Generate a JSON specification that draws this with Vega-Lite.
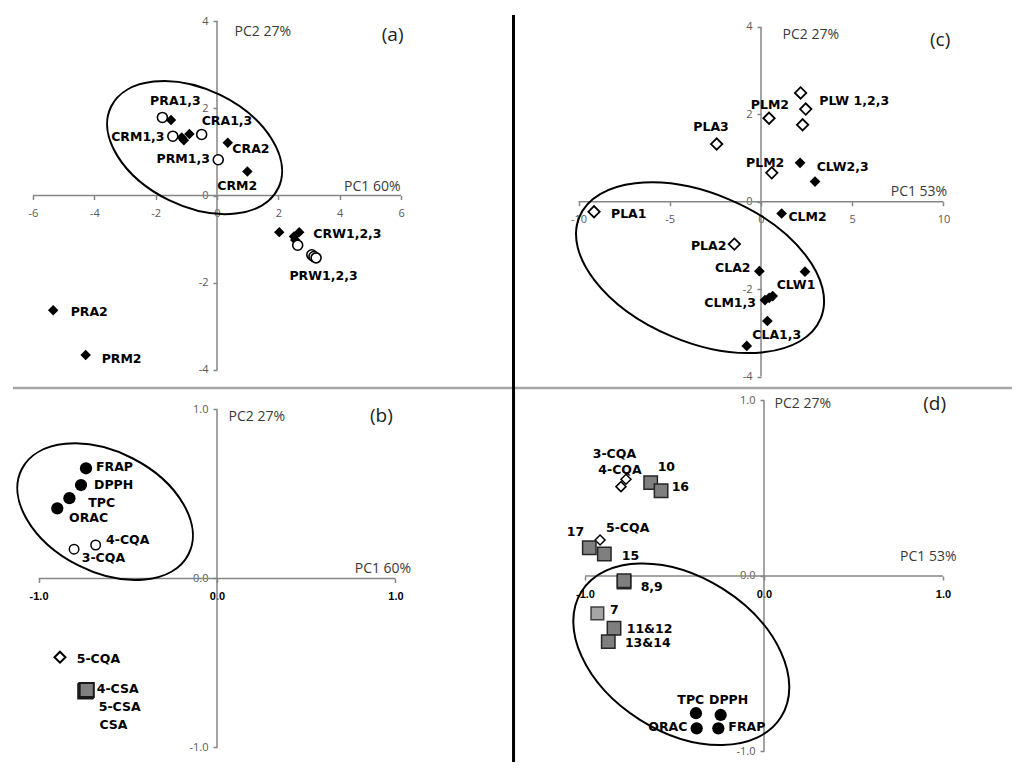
{
  "$schema": "https://vega.github.io/schema/vega-lite/v6.json",
  "padding": 0,
  "spacing": 0,
  "bounds": "flush",
  "columns": 2,
  "background": "white",
  "config": {
    "view": {"stroke": null},
    "axis": {"domain": false, "grid": false, "tickColor": "#868686", "tickWidth": 1.5, "tickSize": 4,
      "labelFont": "Open Sans", "labelFontSize": 11, "labelColor": "#595959", "labelOverlap": false,
      "labelFlush": false, "labelBound": false, "titleFont": "Open Sans", "titleFontSize": 14,
      "titleFontWeight": "normal", "titleColor": "#3a3a3a"},
    "axisX": {"labelPadding": 8, "titleAlign": "right", "titleBaseline": "alphabetic", "titleAngle": 0},
    "axisY": {"labelPadding": 5, "titleAlign": "left", "titleBaseline": "middle", "titleAngle": 0},
    "text": {"font": "DejaVu Sans", "fontWeight": "bold", "fontSize": 12.5, "color": "black", "align": "left", "baseline": "middle"}
  },
  "datasets": {
    "a_axes": [{"x": -6, "x2": 6, "y": 0, "y2": 0}, {"x": 0, "x2": 0, "y": -4, "y2": 4}],
    "c_axes": [{"x": -10, "x2": 10, "y": 0, "y2": 0}, {"x": 0, "x2": 0, "y": -4, "y2": 4}],
    "b_axes": [{"x": -1, "x2": 1, "y": 0, "y2": 0}, {"x": 0, "x2": 0, "y": -1, "y2": 1}],
    "d_axes": [{"x": -1, "x2": 1, "y": 0, "y2": 0}, {"x": 0, "x2": 0, "y": -1, "y2": 1}],
    "a_div": [{"x": -6.65, "x2": 9.615, "y": -4.415, "y2": -4.415}],
    "c_div": [{"x": -13.644, "x2": 13.753, "y": -4.263, "y2": -4.263}],
    "c_vdiv": [{"x": -13.562, "x2": -13.562, "y": 4.272, "y2": -4.263}],
    "d_vdiv": [{"x": -1.3994, "x2": -1.3994, "y": 1.071, "y2": -1.06}],
    "a_ell": [{"x": -0.73, "y": 1.10}],
    "c_ell": [{"x": -3.34, "y": -1.51}],
    "b_ell": [{"x": -0.627, "y": 0.395}],
    "d_ell": [{"x": -0.462, "y": -0.446}],
    "a_pts": [
      {"x": -1.78, "y": 1.79, "k": "o"}, {"x": -1.50, "y": 1.73, "k": "f"},
      {"x": -1.44, "y": 1.36, "k": "o"}, {"x": -1.15, "y": 1.33, "k": "f"},
      {"x": -1.08, "y": 1.27, "k": "f"}, {"x": -0.90, "y": 1.41, "k": "f"},
      {"x": -0.50, "y": 1.40, "k": "o"}, {"x": 0.35, "y": 1.21, "k": "f"},
      {"x": 0.04, "y": 0.82, "k": "o"}, {"x": 0.99, "y": 0.55, "k": "f"},
      {"x": 2.03, "y": -0.84, "k": "f"}, {"x": 2.51, "y": -0.94, "k": "f"},
      {"x": 2.68, "y": -0.84, "k": "f"}, {"x": 2.55, "y": -1.02, "k": "f"},
      {"x": 2.63, "y": -1.14, "k": "o"}, {"x": 3.09, "y": -1.36, "k": "o"},
      {"x": 3.16, "y": -1.40, "k": "o"}, {"x": 3.23, "y": -1.43, "k": "o"},
      {"x": -5.34, "y": -2.63, "k": "f"}, {"x": -4.28, "y": -3.66, "k": "f"}
    ],
    "a_lab": [
      {"t": "PRA1,3", "x": -2.18, "y": 2.17}, {"t": "CRA1,3", "x": -0.50, "y": 1.72},
      {"t": "CRM1,3", "x": -3.45, "y": 1.35}, {"t": "CRA2", "x": 0.50, "y": 1.07},
      {"t": "PRM1,3", "x": -1.97, "y": 0.84}, {"t": "CRM2", "x": 0.01, "y": 0.22},
      {"t": "CRW1,2,3", "x": 3.14, "y": -0.89}, {"t": "PRW1,2,3", "x": 2.36, "y": -1.85},
      {"t": "PRA2", "x": -4.77, "y": -2.68}, {"t": "PRM2", "x": -3.76, "y": -3.75}
    ],
    "a_tag": [{"t": "(a)", "x": 5.37, "y": 3.68}],
    "c_pts": [
      {"x": -2.43, "y": 1.32, "k": "o"}, {"x": 0.44, "y": 1.91, "k": "o"},
      {"x": 2.17, "y": 2.49, "k": "o"}, {"x": 2.45, "y": 2.12, "k": "o"},
      {"x": 2.28, "y": 1.76, "k": "o"}, {"x": 0.59, "y": 0.66, "k": "o"},
      {"x": -9.15, "y": -0.23, "k": "o"}, {"x": -1.46, "y": -0.97, "k": "o"},
      {"x": 2.14, "y": 0.89, "k": "f"}, {"x": 2.96, "y": 0.46, "k": "f"},
      {"x": 1.13, "y": -0.27, "k": "f"}, {"x": -0.09, "y": -1.59, "k": "f"},
      {"x": 2.41, "y": -1.60, "k": "f"}, {"x": 0.22, "y": -2.25, "k": "f"},
      {"x": 0.64, "y": -2.16, "k": "f"}, {"x": 0.45, "y": -2.20, "k": "f"},
      {"x": 0.35, "y": -2.73, "k": "f"}, {"x": -0.78, "y": -3.30, "k": "f"}
    ],
    "c_lab": [
      {"t": "PLA3", "x": -3.71, "y": 1.70}, {"t": "PLM2", "x": -0.56, "y": 2.21},
      {"t": "PLW 1,2,3", "x": 3.19, "y": 2.31}, {"t": "PLM2", "x": -0.82, "y": 0.89},
      {"t": "CLW2,3", "x": 3.05, "y": 0.80}, {"t": "PLA1", "x": -8.22, "y": -0.29},
      {"t": "CLM2", "x": 1.50, "y": -0.34}, {"t": "PLA2", "x": -3.84, "y": -1.01},
      {"t": "CLA2", "x": -2.52, "y": -1.52}, {"t": "CLW1", "x": 0.86, "y": -1.91},
      {"t": "CLM1,3", "x": -3.11, "y": -2.31}, {"t": "CLA1,3", "x": -0.48, "y": -3.05}
    ],
    "c_tag": [{"t": "(c)", "x": 9.26, "y": 3.70}],
    "b_pts": [
      {"x": -0.734, "y": 0.652, "k": "fc"}, {"x": -0.762, "y": 0.553, "k": "fc"},
      {"x": -0.827, "y": 0.475, "k": "fc"}, {"x": -0.895, "y": 0.415, "k": "fc"},
      {"x": -0.680, "y": 0.198, "k": "oc"}, {"x": -0.801, "y": 0.173, "k": "oc"},
      {"x": -0.880, "y": -0.466, "k": "od"},
      {"x": -0.738, "y": -0.668, "k": "sq"}, {"x": -0.734, "y": -0.664, "k": "sq"}, {"x": -0.730, "y": -0.660, "k": "sq"}
    ],
    "b_lab": [
      {"t": "FRAP", "x": -0.678, "y": 0.662}, {"t": "DPPH", "x": -0.689, "y": 0.553},
      {"t": "TPC", "x": -0.721, "y": 0.449}, {"t": "ORAC", "x": -0.829, "y": 0.360},
      {"t": "4-CQA", "x": -0.622, "y": 0.228}, {"t": "3-CQA", "x": -0.758, "y": 0.123},
      {"t": "5-CQA", "x": -0.786, "y": -0.478}, {"t": "4-CSA", "x": -0.674, "y": -0.656},
      {"t": "5-CSA", "x": -0.663, "y": -0.759}, {"t": "CSA", "x": -0.659, "y": -0.867}
    ],
    "b_tag": [{"t": "(b)", "x": 0.857, "y": 0.962}],
    "d_pts": [
      {"x": -0.771, "y": 0.551, "k": "od"}, {"x": -0.799, "y": 0.509, "k": "od"},
      {"x": -0.916, "y": 0.205, "k": "od"},
      {"x": -0.633, "y": 0.532, "k": "sq"}, {"x": -0.575, "y": 0.486, "k": "sq"},
      {"x": -0.976, "y": 0.161, "k": "sq"}, {"x": -0.892, "y": 0.125, "k": "sq"},
      {"x": -0.782, "y": -0.035, "k": "sq"}, {"x": -0.782, "y": -0.027, "k": "sq"},
      {"x": -0.838, "y": -0.298, "k": "sq"}, {"x": -0.870, "y": -0.374, "k": "sq"},
      {"x": -0.931, "y": -0.213, "k": "sl"},
      {"x": -0.380, "y": -0.782, "k": "fc"}, {"x": -0.376, "y": -0.868, "k": "fc"},
      {"x": -0.242, "y": -0.792, "k": "fc"}, {"x": -0.255, "y": -0.868, "k": "fc"}
    ],
    "d_lab": [
      {"t": "3-CQA", "x": -0.957, "y": 0.695}, {"t": "4-CQA", "x": -0.926, "y": 0.604},
      {"t": "10", "x": -0.594, "y": 0.619}, {"t": "16", "x": -0.516, "y": 0.505},
      {"t": "17", "x": -1.102, "y": 0.249}, {"t": "5-CQA", "x": -0.883, "y": 0.272},
      {"t": "15", "x": -0.795, "y": 0.114}, {"t": "8,9", "x": -0.689, "y": -0.061},
      {"t": "7", "x": -0.860, "y": -0.194}, {"t": "11&12", "x": -0.767, "y": -0.302},
      {"t": "13&14", "x": -0.777, "y": -0.384}, {"t": "TPC", "x": -0.484, "y": -0.707},
      {"t": "DPPH", "x": -0.307, "y": -0.707}, {"t": "ORAC", "x": -0.646, "y": -0.859},
      {"t": "FRAP", "x": -0.199, "y": -0.859}
    ],
    "d_tag": [{"t": "(d)", "x": 0.890, "y": 0.980}]
  },
  "concat": [
    {
      "width": 512, "height": 388,
      "encoding": {
        "x": {"field": "x", "type": "quantitative", "scale": {"domain": [-7.073, 9.615], "nice": false, "zero": false},
          "axis": {"title": "PC1 60%", "values": [-6, -4, -2, 0, 2, 4, 6], "format": "d", "labelExpr": "replace(datum.label, '\u2212', '-')", "offset": -192.5, "titleX": 400, "titleY": -5}},
        "y": {"field": "y", "type": "quantitative", "scale": {"domain": [-4.415, 4.484], "nice": false, "zero": false},
          "axis": {"title": "PC2 27%", "values": [-4, -2, 0, 2, 4], "format": "d", "labelExpr": "replace(datum.label, '\u2212', '-')", "offset": -217, "titleX": 17, "titleY": 31}}
      },
      "layer": [
        {"data": {"name": "a_axes"}, "mark": {"type": "rule", "color": "#868686", "strokeWidth": 1.5}, "encoding": {"x2": {"field": "x2"}, "y2": {"field": "y2"}}},
        {"data": {"name": "a_div"}, "mark": {"type": "rule", "color": "#a6a6a6", "strokeWidth": 2.5}, "encoding": {"x2": {"field": "x2"}, "y2": {"field": "y2"}}},
        {"data": {"name": "a_ell"}, "mark": {"type": "point", "shape": "M 93 0 C 93 32.3 51.4 58.5 0 58.5 C -51.4 58.5 -93 32.3 -93 0 C -93 -32.3 -51.4 -58.5 0 -58.5 C 51.4 -58.5 93 -32.3 93 0 Z", "size": 4, "angle": 26, "filled": false, "color": "black", "strokeWidth": 2, "opacity": 1}},
        {"data": {"name": "a_pts"}, "transform": [{"filter": "datum.k === 'f'"}], "mark": {"type": "point", "shape": "diamond", "filled": true, "color": "black", "size": 110, "opacity": 1}},
        {"data": {"name": "a_pts"}, "transform": [{"filter": "datum.k === 'o'"}], "mark": {"type": "point", "shape": "circle", "filled": true, "fill": "white", "stroke": "black", "strokeWidth": 1.6, "size": 100, "opacity": 1}},
        {"data": {"name": "a_lab"}, "mark": {"type": "text"}, "encoding": {"text": {"field": "t"}}},
        {"data": {"name": "a_tag"}, "mark": {"type": "text", "font": "Open Sans", "fontWeight": "normal", "fontSize": 19, "color": "#222222"}, "encoding": {"text": {"field": "t"}}}
      ]
    },
    {
      "width": 512, "height": 388,
      "encoding": {
        "x": {"field": "x", "type": "quantitative", "scale": {"domain": [-13.644, 14.411], "nice": false, "zero": false},
          "axis": {"title": "PC1 53%", "values": [-10, -5, 0, 5, 10], "format": "d", "labelExpr": "replace(datum.label, '\u2212', '-')", "offset": -186.3, "titleX": 434.7, "titleY": -6}},
        "y": {"field": "y", "type": "quantitative", "scale": {"domain": [-4.263, 4.616], "nice": false, "zero": false},
          "axis": {"title": "PC2 27%", "values": [-4, -2, 0, 2, 4], "format": "d", "labelExpr": "replace(datum.label, '\u2212', '-')", "offset": -249, "titleX": 21, "titleY": 34}}
      },
      "layer": [
        {"data": {"name": "c_axes"}, "mark": {"type": "rule", "color": "#868686", "strokeWidth": 1.5}, "encoding": {"x2": {"field": "x2"}, "y2": {"field": "y2"}}},
        {"data": {"name": "c_div"}, "mark": {"type": "rule", "color": "#a6a6a6", "strokeWidth": 2.5}, "encoding": {"x2": {"field": "x2"}, "y2": {"field": "y2"}}},
        {"data": {"name": "c_vdiv"}, "mark": {"type": "rule", "color": "black", "strokeWidth": 3}, "encoding": {"x2": {"field": "x2"}, "y2": {"field": "y2"}}},
        {"data": {"name": "c_ell"}, "mark": {"type": "point", "shape": "M 130.9 0 C 130.9 41 72.3 74.2 0 74.2 C -72.3 74.2 -130.9 41 -130.9 0 C -130.9 -41 -72.3 -74.2 0 -74.2 C 72.3 -74.2 130.9 -41 130.9 0 Z", "size": 4, "angle": 22.9, "filled": false, "color": "black", "strokeWidth": 2, "opacity": 1}},
        {"data": {"name": "c_pts"}, "transform": [{"filter": "datum.k === 'f'"}], "mark": {"type": "point", "shape": "diamond", "filled": true, "color": "black", "size": 115, "opacity": 1}},
        {"data": {"name": "c_pts"}, "transform": [{"filter": "datum.k === 'o'"}], "mark": {"type": "point", "shape": "diamond", "filled": true, "fill": "white", "stroke": "black", "strokeWidth": 1.8, "size": 130, "opacity": 1}},
        {"data": {"name": "c_lab"}, "mark": {"type": "text"}, "encoding": {"text": {"field": "t"}}},
        {"data": {"name": "c_tag"}, "mark": {"type": "text", "font": "Open Sans", "fontWeight": "normal", "fontSize": 19, "color": "#222222"}, "encoding": {"text": {"field": "t"}}}
      ]
    },
    {
      "width": 512, "height": 387,
      "encoding": {
        "x": {"field": "x", "type": "quantitative", "scale": {"domain": [-1.216, 1.653], "nice": false, "zero": false},
          "axis": {"title": "PC1 60%", "values": [-1, 0, 1], "format": ".1f", "labelExpr": "replace(datum.label, '\u2212', '-')", "labelFont": "Liberation Sans", "labelFontWeight": "bold", "labelColor": "black", "offset": -196.5, "titleX": 410.7, "titleY": -6}},
        "y": {"field": "y", "type": "quantitative", "scale": {"domain": [-1.163, 1.127], "nice": false, "zero": false},
          "axis": {"title": "PC2 27%", "values": [-1, 0, 1], "format": ".1f", "labelExpr": "replace(datum.label, '\u2212', '-')", "offset": -217, "titleX": 11, "titleY": 28.7}}
      },
      "layer": [
        {"data": {"name": "b_axes"}, "mark": {"type": "rule", "color": "#868686", "strokeWidth": 1.5}, "encoding": {"x2": {"field": "x2"}, "y2": {"field": "y2"}}},
        {"data": {"name": "b_ell"}, "mark": {"type": "point", "shape": "M 93.6 0 C 93.6 33.1 51.7 60 0 60 C -51.7 60 -93.6 33.1 -93.6 0 C -93.6 -33.1 -51.7 -60 0 -60 C 51.7 -60 93.6 -33.1 93.6 0 Z", "size": 4, "angle": 27, "filled": false, "color": "black", "strokeWidth": 2, "opacity": 1}},
        {"data": {"name": "b_pts"}, "transform": [{"filter": "datum.k === 'fc'"}], "mark": {"type": "point", "shape": "circle", "filled": true, "color": "black", "size": 150, "opacity": 1}},
        {"data": {"name": "b_pts"}, "transform": [{"filter": "datum.k === 'oc'"}], "mark": {"type": "point", "shape": "circle", "filled": true, "fill": "white", "stroke": "black", "strokeWidth": 1.5, "size": 90, "opacity": 1}},
        {"data": {"name": "b_pts"}, "transform": [{"filter": "datum.k === 'od'"}], "mark": {"type": "point", "shape": "diamond", "filled": true, "fill": "white", "stroke": "black", "strokeWidth": 2, "size": 120, "opacity": 1}},
        {"data": {"name": "b_pts"}, "transform": [{"filter": "datum.k === 'sq'"}], "mark": {"type": "point", "shape": "square", "filled": true, "fill": "#808080", "stroke": "#1a1a1a", "strokeWidth": 2, "size": 200, "opacity": 1}},
        {"data": {"name": "b_lab"}, "mark": {"type": "text"}, "encoding": {"text": {"field": "t"}}},
        {"data": {"name": "b_tag"}, "mark": {"type": "text", "font": "Open Sans", "fontWeight": "normal", "fontSize": 19, "color": "#222222"}, "encoding": {"text": {"field": "t"}}}
      ]
    },
    {
      "width": 512, "height": 387,
      "encoding": {
        "x": {"field": "x", "type": "quantitative", "scale": {"domain": [-1.408, 1.453], "nice": false, "zero": false},
          "axis": {"title": "PC1 53%", "values": [-1, 0, 1], "format": ".1f", "labelExpr": "replace(datum.label, '\u2212', '-')", "labelFont": "Liberation Sans", "labelFontWeight": "bold", "labelColor": "black", "offset": -199, "titleX": 444, "titleY": -16}},
        "y": {"field": "y", "type": "quantitative", "scale": {"domain": [-1.134, 1.071], "nice": false, "zero": false},
          "axis": {"title": "PC2 27%", "values": [-1, 0, 1], "format": ".1f", "labelExpr": "replace(datum.label, '\u2212', '-')", "offset": -252, "titleX": 10, "titleY": 15.3}}
      },
      "layer": [
        {"data": {"name": "d_axes"}, "mark": {"type": "rule", "color": "#868686", "strokeWidth": 1.5}, "encoding": {"x2": {"field": "x2"}, "y2": {"field": "y2"}}},
        {"data": {"name": "d_vdiv"}, "mark": {"type": "rule", "color": "black", "strokeWidth": 3}, "encoding": {"x2": {"field": "x2"}, "y2": {"field": "y2"}}},
        {"data": {"name": "d_ell"}, "mark": {"type": "point", "shape": "M 117.9 0 C 117.9 42.8 65.1 77.5 0 77.5 C -65.1 77.5 -117.9 42.8 -117.9 0 C -117.9 -42.8 -65.1 -77.5 0 -77.5 C 65.1 -77.5 117.9 -42.8 117.9 0 Z", "size": 4, "angle": 32.2, "filled": false, "color": "black", "strokeWidth": 2, "opacity": 1}},
        {"data": {"name": "d_pts"}, "transform": [{"filter": "datum.k === 'od'"}], "mark": {"type": "point", "shape": "diamond", "filled": true, "fill": "white", "stroke": "black", "strokeWidth": 1.5, "size": 100, "opacity": 1}},
        {"data": {"name": "d_pts"}, "transform": [{"filter": "datum.k === 'sq'"}], "mark": {"type": "point", "shape": "square", "filled": true, "fill": "#7f7f7f", "stroke": "#262626", "strokeWidth": 1.5, "size": 180, "opacity": 1}},
        {"data": {"name": "d_pts"}, "transform": [{"filter": "datum.k === 'sl'"}], "mark": {"type": "point", "shape": "square", "filled": true, "fill": "#a6a6a6", "stroke": "#404040", "strokeWidth": 1.5, "size": 160, "opacity": 1}},
        {"data": {"name": "d_pts"}, "transform": [{"filter": "datum.k === 'fc'"}], "mark": {"type": "point", "shape": "circle", "filled": true, "color": "black", "size": 150, "opacity": 1}},
        {"data": {"name": "d_lab"}, "mark": {"type": "text"}, "encoding": {"text": {"field": "t"}}},
        {"data": {"name": "d_tag"}, "mark": {"type": "text", "font": "Open Sans", "fontWeight": "normal", "fontSize": 19, "color": "#222222"}, "encoding": {"text": {"field": "t"}}}
      ]
    }
  ]
}
